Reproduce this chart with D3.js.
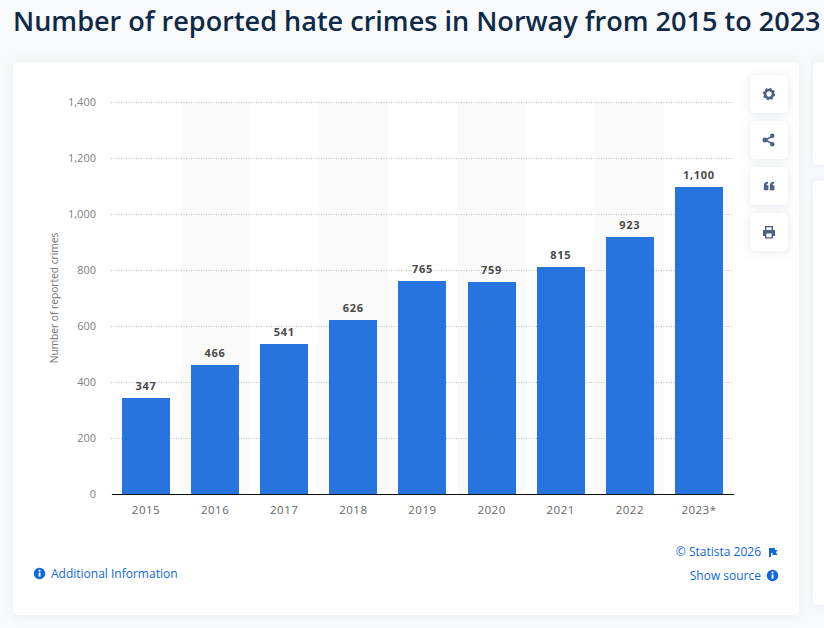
<!DOCTYPE html>
<html>
<head>
<meta charset="utf-8">
<script src="https://cdn.jsdelivr.net/npm/d3@7.9.0/dist/d3.min.js"></script>
<style>
html, body { margin: 0; padding: 0; background: #f9fafc; overflow: hidden; }
svg { display: block; font-family: "Open Sans", "Noto Sans", sans-serif; }
</style>
</head>
<body>
<svg id="chart" width="824" height="628"></svg>
<script>
const years = ["2015", "2016", "2017", "2018", "2019", "2020", "2021", "2022", "2023*"];
const crimes = [347, 466, 541, 626, 765, 759, 815, 923, 1100];
const yTicks = [0, 200, 400, 600, 800, 1000, 1200, 1400];

const titleText = "Number of reported hate crimes in Norway from 2015 to 2023";
const yLabel = "Number of reported crimes";

const svg = d3.select("#chart");
const plot = { left: 111, right: 733, top: 102, bottom: 494 };

const defs = svg.append("defs");
const shadow = defs.append("filter").attr("id", "shadow")
    .attr("x", "-10%").attr("y", "-10%").attr("width", "120%").attr("height", "120%");
shadow.append("feDropShadow").attr("dx", 0).attr("dy", 0).attr("stdDeviation", 6)
    .attr("flood-color", "#8a96b0").attr("flood-opacity", 0.16);
const btnShadow = defs.append("filter").attr("id", "btnShadow")
    .attr("x", "-40%").attr("y", "-40%").attr("width", "180%").attr("height", "180%");
btnShadow.append("feDropShadow").attr("dx", 0).attr("dy", 1).attr("stdDeviation", 5)
    .attr("flood-color", "#7a88a8").attr("flood-opacity", 0.2);

// title
svg.append("text")
    .attr("x", 13).attr("y", 31)
    .attr("font-size", 27.05).attr("font-weight", 600)
    .attr("fill", "#0f2a47")
    .text(titleText);

// cards
svg.append("rect").attr("x", 13).attr("y", 62).attr("width", 786).attr("height", 553)
    .attr("rx", 5).attr("fill", "#fff").attr("filter", "url(#shadow)");
svg.append("rect").attr("x", 813).attr("y", 62).attr("width", 30).attr("height", 103)
    .attr("rx", 5).attr("fill", "#fff").attr("filter", "url(#shadow)");
svg.append("rect").attr("x", 813).attr("y", 181).attr("width", 30).attr("height", 424)
    .attr("rx", 5).attr("fill", "#fff").attr("filter", "url(#shadow)");

const x = d3.scaleBand()
    .domain(years)
    .range([plot.left + 0.4, plot.right + 0.5])
    .paddingInner(0.305)
    .paddingOuter(0.1525);

const y = d3.scaleLinear()
    .domain([0, 1400])
    .range([plot.bottom, plot.top]);

// bar tops sit about a pixel under the gridline scale in the original
const barTop = d => Math.round(y(d) + 1);

// alternating stripes
svg.append("g")
    .selectAll("rect")
    .data(years.filter((d, i) => i % 2 === 1))
    .join("rect")
    .attr("x", d => Math.round(x(d) + x.bandwidth() / 2 - x.step() / 2))
    .attr("y", plot.top)
    .attr("width", Math.round(x.step()))
    .attr("height", plot.bottom - plot.top)
    .attr("fill", "#fafafa");

// y axis + dotted grid
const yAxis = svg.append("g")
    .attr("transform", `translate(${plot.left},0)`)
    .call(d3.axisLeft(y).tickValues(yTicks).tickFormat(d3.format(",")).tickSize(0).tickPadding(15));
yAxis.select(".domain").remove();
yAxis.selectAll("text")
    .attr("font-family", "'Open Sans', sans-serif")
    .attr("font-size", 11).attr("fill", "#808080");
yAxis.selectAll(".tick line")
    .filter(d => d !== 0)
    .attr("x2", plot.right - plot.left)
    .attr("stroke", "#bdbdbd")
    .attr("stroke-dasharray", "1 1.5");

// bars
svg.append("g")
    .selectAll("rect")
    .data(crimes)
    .join("rect")
    .attr("x", (d, i) => Math.round(x(years[i])))
    .attr("y", d => barTop(d))
    .attr("width", Math.round(x.bandwidth()))
    .attr("height", d => plot.bottom - barTop(d))
    .attr("fill", "#2874de");

// value labels
svg.append("g")
    .selectAll("text")
    .data(crimes)
    .join("text")
    .attr("x", (d, i) => x(years[i]) + x.bandwidth() / 2)
    .attr("y", d => barTop(d) - 8)
    .attr("text-anchor", "middle")
    .attr("font-size", 11).attr("font-weight", 700)
    .attr("letter-spacing", 0.7)
    .attr("fill", "#4a4a4a")
    .text(d => d3.format(",")(d));

// x axis
const xAxis = svg.append("g")
    .attr("transform", `translate(0,${plot.bottom})`)
    .call(d3.axisBottom(x).tickSize(0).tickPadding(12));
xAxis.select(".domain").attr("stroke", "#111").attr("stroke-width", 1);
xAxis.selectAll("text")
    .attr("font-family", "'Open Sans', sans-serif")
    .attr("font-size", 11.5).attr("letter-spacing", 0.5).attr("fill", "#666");

// y axis title
svg.append("text")
    .attr("transform", `translate(58,${(plot.top + plot.bottom) / 2}) rotate(-90)`)
    .attr("text-anchor", "middle")
    .attr("font-size", 10.2).attr("fill", "#777")
    .text(yLabel);

// toolbar buttons
const buttons = [
    { y: 75, icon: "gear" },
    { y: 121, icon: "share" },
    { y: 167, icon: "quote" },
    { y: 213, icon: "print" }
];
const iconColor = "#4a6285";
const btn = svg.append("g").selectAll("g").data(buttons).join("g")
    .attr("transform", d => `translate(769,${d.y + 19})`);
btn.append("rect")
    .attr("x", -19).attr("y", -19).attr("width", 38).attr("height", 38)
    .attr("rx", 5).attr("fill", "#fff").attr("filter", "url(#btnShadow)");
btn.each(function(d) {
    const g = d3.select(this);
    if (d.icon === "gear") {
        g.append("circle").attr("r", 4).attr("fill", "none").attr("stroke", iconColor).attr("stroke-width", 2.6);
        g.append("circle").attr("r", 5.4).attr("fill", "none").attr("stroke", iconColor)
            .attr("stroke-width", 1.6).attr("stroke-dasharray", "2.1 2.1");
    } else if (d.icon === "share") {
        g.append("path").attr("d", "M-4,0L4,-4M-4,0L4,4").attr("stroke", iconColor).attr("stroke-width", 1.4);
        g.append("circle").attr("cx", -4).attr("r", 2.5).attr("fill", iconColor);
        g.append("circle").attr("cx", 3.3).attr("cy", -4.2).attr("r", 2.2).attr("fill", iconColor);
        g.append("circle").attr("cx", 3.3).attr("cy", 4.2).attr("r", 2.2).attr("fill", iconColor);
    } else if (d.icon === "quote") {
        g.append("path").attr("fill", iconColor)
            .attr("d", "M-5.2,4.2V-0.5C-5.2,-2.8 -3.8,-4 -1,-4.2V-2.6C-2,-2.4 -2.4,-1.8 -2.4,-0.8H-0.6V4.2Z M0.8,4.2V-0.5C0.8,-2.8 2.2,-4 5,-4.2V-2.6C4,-2.4 3.6,-1.8 3.6,-0.8H5.4V4.2Z");
    } else {
        g.append("path").attr("fill", iconColor).attr("fill-rule", "evenodd")
            .attr("d", "M-4,-6H4V-2H6V4H4V6.5H-4V4H-6V-2H-4Z M-2.6,-4.7V-2H2.6V-4.7Z M-2.6,1.5V5.2H2.6V1.5Z");
    }
});

// footer links
const linkColor = "#0f67dc";
function infoIcon(cx, cy) {
    const g = svg.append("g").attr("transform", `translate(${cx},${cy})`);
    g.append("circle").attr("r", 5.7).attr("fill", linkColor);
    g.append("rect").attr("x", -0.9).attr("y", -1).attr("width", 1.9).attr("height", 4.2).attr("fill", "#fff");
    g.append("circle").attr("cy", -2.9).attr("r", 1.05).attr("fill", "#fff");
}
infoIcon(39.5, 573.5);
svg.append("text").attr("x", 51).attr("y", 578)
    .attr("font-size", 12).attr("fill", linkColor)
    .text("Additional Information");
svg.append("text").attr("x", 761).attr("y", 556).attr("text-anchor", "end")
    .attr("font-size", 12).attr("fill", linkColor)
    .text("© Statista 2026");
svg.append("path").attr("fill", linkColor)
    .attr("d", "M769,548H775V550H777.5L776,552.5L777.5,555H772.5V553H771V557H769Z");
svg.append("text").attr("x", 761).attr("y", 580).attr("text-anchor", "end")
    .attr("font-size", 12).attr("fill", linkColor)
    .text("Show source");
infoIcon(772.5, 575.5);
</script>
</body>
</html>
